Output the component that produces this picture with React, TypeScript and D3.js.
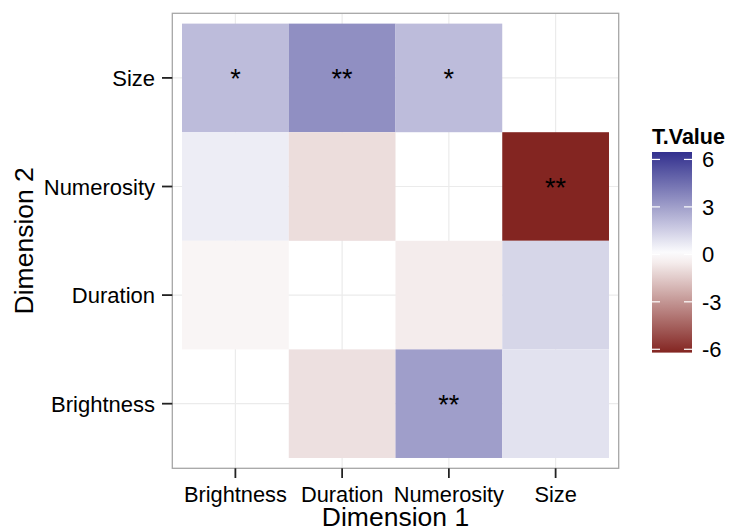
import React from "react";
import * as d3 from "d3";

const dim1Categories = ["Brightness", "Duration", "Numerosity", "Size"];
const dim2Categories = ["Brightness", "Duration", "Numerosity", "Size"];

const cellDim1 = ["Brightness", "Duration", "Numerosity", "Brightness", "Duration", "Size", "Brightness", "Numerosity", "Size", "Duration", "Numerosity", "Size"];
const cellDim2 = ["Size", "Size", "Size", "Numerosity", "Numerosity", "Numerosity", "Duration", "Duration", "Duration", "Brightness", "Brightness", "Brightness"];
const cellT = [2.08, 3.5, 2.08, 0.57, -0.97, -6.21, -0.29, -0.54, 1.29, -0.88, 3.03, 0.92];
const cellSig = ["*", "**", "*", "", "", "**", "", "", "", "", "**", ""];

const legendTicks = [-6, -3, 0, 3, 6];
const legendLimits = [-6.21, 6.47];

const W = 733;
const H = 531;
const FONT = "'Liberation Sans', Arial, Helvetica, sans-serif";

export default function App() {
  const px0 = 172.3, px1 = 618.7, py0 = 13.3, py1 = 468.3;
  const x = d3.scaleBand<string>().domain(dim1Categories).range([px0, px1]).paddingInner(0).paddingOuter(0.091);
  const y = d3.scaleBand<string>().domain([...dim2Categories].reverse()).range([py0, py1]).paddingInner(0).paddingOuter(0.095);

  const absMax = Math.max(Math.abs(legendLimits[0]), Math.abs(legendLimits[1]));
  const color = d3
    .scaleLinear<string>()
    .domain([-absMax, 0, absMax])
    .range(["#7e1c18", "#ffffff", "#32308e"])
    .interpolate(d3.interpolateRgb);

  const cells = cellT.map((t, i) => ({ d1: cellDim1[i], d2: cellDim2[i], t, sig: cellSig[i] }));

  // legend
  const lx0 = 652, lx1 = 692;
  const ly = d3.scaleLinear().domain(legendLimits).range([352.6, 152]);
  const stops = d3.range(0, 21).map((i) => {
    const v = legendLimits[0] + (i / 20) * (legendLimits[1] - legendLimits[0]);
    return { off: i / 20, c: color(v) };
  });

  return (
    <svg width={W} height={H} style={{ display: "block", position: "absolute", left: 0, top: 0 }} fontFamily={FONT}>
      <defs>
        <linearGradient id="lg" x1="0" y1="1" x2="0" y2="0">
          {stops.map((s, i) => (
            <stop key={i} offset={s.off} stopColor={s.c} />
          ))}
        </linearGradient>
      </defs>
      <rect x={0} y={0} width={W} height={H} fill="#ffffff" />
      {/* grid */}
      {dim1Categories.map((c) => (
        <line key={"gx" + c} x1={x(c)! + x.bandwidth() / 2} x2={x(c)! + x.bandwidth() / 2} y1={py0} y2={py1} stroke="#ebebeb" strokeWidth={1.2} />
      ))}
      {dim2Categories.map((c) => (
        <line key={"gy" + c} y1={y(c)! + y.bandwidth() / 2} y2={y(c)! + y.bandwidth() / 2} x1={px0} x2={px1} stroke="#ebebeb" strokeWidth={1.2} />
      ))}
      {/* tiles */}
      {cells.map((c, i) => (
        <rect key={"t" + i} x={x(c.d1)} y={y(c.d2)} width={x.bandwidth()} height={y.bandwidth()} fill={color(c.t)} />
      ))}
      {cells.map((c, i) =>
        c.sig ? (
          <text
            key={"s" + i}
            x={x(c.d1)! + x.bandwidth() / 2}
            y={y(c.d2)! + y.bandwidth() / 2 + 10}
            textAnchor="middle"
            fontSize={27}
            fill="#000"
          >
            {c.sig}
          </text>
        ) : null
      )}
      {/* panel border */}
      <rect x={px0} y={py0} width={px1 - px0} height={py1 - py0} fill="none" stroke="#a6a6a6" strokeWidth={1.3} />
      {/* y axis */}
      {dim2Categories.map((c) => {
        const cy = y(c)! + y.bandwidth() / 2;
        return (
          <g key={"ya" + c}>
            <line x1={162} x2={px0} y1={cy} y2={cy} stroke="#222" strokeWidth={1.8} />
            <text x={155} y={cy + 8} textAnchor="end" fontSize={22} fill="#000">
              {c}
            </text>
          </g>
        );
      })}
      {/* x axis */}
      {dim1Categories.map((c) => {
        const cx = x(c)! + x.bandwidth() / 2;
        return (
          <g key={"xa" + c}>
            <line x1={cx} x2={cx} y1={py1} y2={478} stroke="#222" strokeWidth={1.8} />
            <text x={cx} y={502} textAnchor="middle" fontSize={21.8} fill="#000">
              {c}
            </text>
          </g>
        );
      })}
      <text x={(px0 + px1) / 2} y={526} textAnchor="middle" fontSize={26.5} fill="#000">
        Dimension 1
      </text>
      <text transform={`translate(33, ${(py0 + py1) / 2}) rotate(-90)`} textAnchor="middle" fontSize={26.5} fill="#000">
        Dimension 2
      </text>
      {/* legend */}
      <text x={lx0} y={144} fontSize={21.5} fontWeight="bold" fill="#000">
        T.Value
      </text>
      <rect x={lx0} y={ly(legendLimits[1])} width={lx1 - lx0} height={ly(legendLimits[0]) - ly(legendLimits[1])} fill="url(#lg)" />
      {legendTicks.map((t) => (
        <g key={"lt" + t}>
          <line x1={lx0} x2={lx0 + 8} y1={ly(t)} y2={ly(t)} stroke="#ffffff" strokeWidth={1.2} />
          <line x1={lx1 - 8} x2={lx1} y1={ly(t)} y2={ly(t)} stroke="#ffffff" strokeWidth={1.2} />
          <text x={702} y={ly(t) + 7.8} fontSize={22} fill="#000">
            {t}
          </text>
        </g>
      ))}
    </svg>
  );
}
